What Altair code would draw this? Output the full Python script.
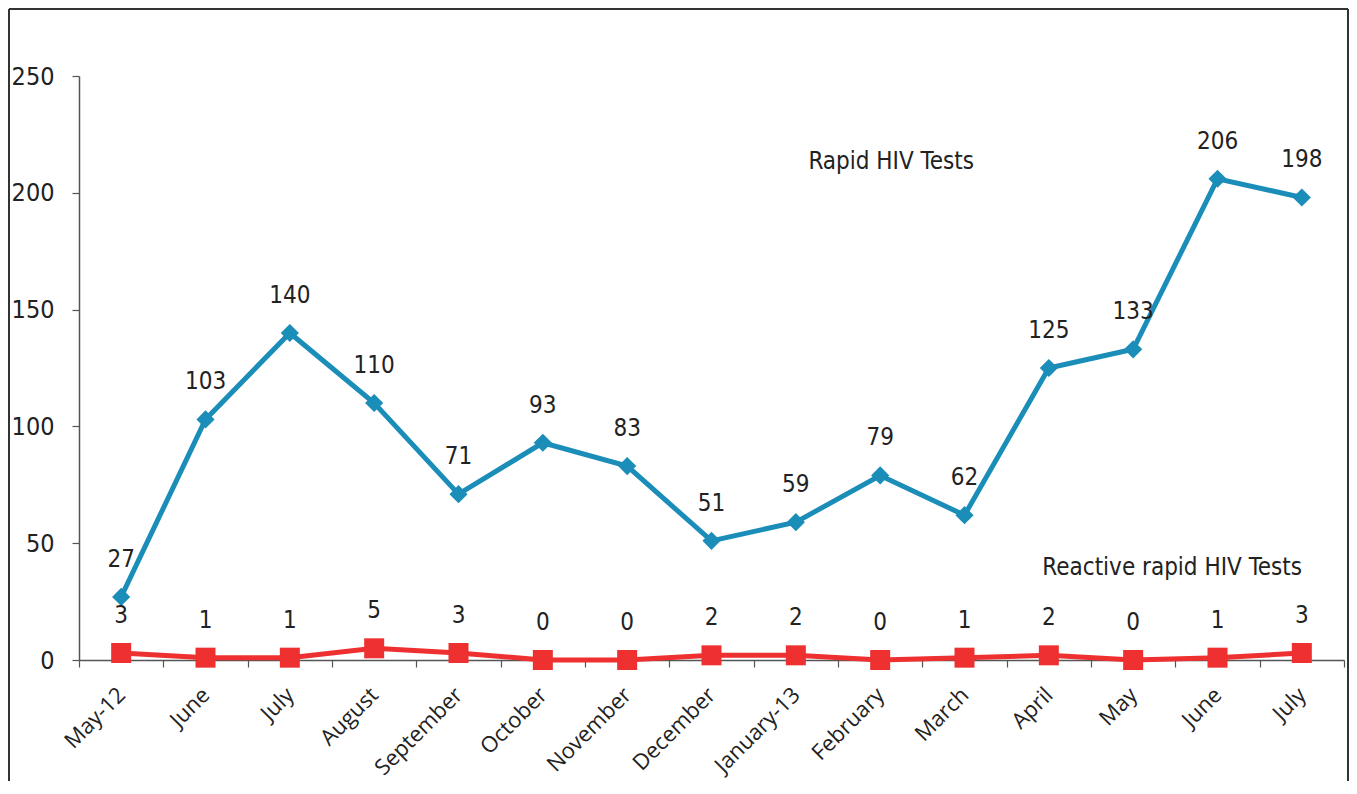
import altair as alt
import pandas as pd

months = ["May-12", "June", "July", "August", "September", "October", "November",
          "December", "January-13", "February", "March", "April", "May", "June", "July"]
rapid = [27, 103, 140, 110, 71, 93, 83, 51, 59, 79, 62, 125, 133, 206, 198]
reactive = [3, 1, 1, 5, 3, 0, 0, 2, 2, 0, 1, 2, 0, 1, 3]

idx = list(range(len(months)))
df = pd.DataFrame({"idx": idx, "month": months, "rapid": rapid, "reactive": reactive})

NUM_FONT = "Liberation Sans Narrow, DejaVu Sans Condensed, sans-serif"
LAB_FONT = "Open Sans, Lato, sans-serif"
BLUE = "#1a8db8"
RED = "#ee3030"
AX = "#555555"

label_arr = "[" + ",".join("'" + m + "'" for m in months) + "]"

x_enc = alt.X(
    "idx:O",
    bandPosition=0.5,
    scale=alt.Scale(type="band", paddingInner=0, paddingOuter=0),
    axis=alt.Axis(
        title=None, tickBand="extent", labelExpr=label_arr + "[datum.value]",
        labelAngle=-45, labelAlign="right", labelBaseline="middle",
        labelFont=LAB_FONT, labelFontSize=22, labelColor="#222222",
        labelPadding=24, tickSize=7, domainColor=AX, tickColor=AX,
        tickWidth=1.2, domainWidth=1.5,
    ),
)
y_scale = alt.Scale(domain=[0, 250], nice=False)
y_axis = alt.Axis(
    title=None, values=[0, 50, 100, 150, 200, 250], grid=False,
    labelFont=NUM_FONT, labelFontSize=25, labelColor="#222222",
    labelPadding=18, tickSize=7, domainColor=AX, tickColor=AX,
    tickWidth=1.2, domainWidth=1.5,
)

base = alt.Chart(df)

blue_line = base.mark_line(color=BLUE, strokeWidth=5).encode(
    x=x_enc, y=alt.Y("rapid:Q", scale=y_scale, axis=y_axis))
blue_pts = base.mark_point(shape="diamond", filled=True, opacity=1, color=BLUE, size=330).encode(
    x=x_enc, y=alt.Y("rapid:Q", scale=y_scale))
blue_txt = base.mark_text(font=NUM_FONT, fontSize=24, color="#222222", dy=-37, baseline="middle").encode(
    x=x_enc, y=alt.Y("rapid:Q", scale=y_scale), text="rapid:Q")

red_line = base.mark_line(color=RED, strokeWidth=5).encode(
    x=x_enc, y=alt.Y("reactive:Q", scale=y_scale))
red_pts = base.mark_point(shape="square", filled=True, opacity=1, color=RED, size=400).encode(
    x=x_enc, y=alt.Y("reactive:Q", scale=y_scale))
red_txt = base.mark_text(font=NUM_FONT, fontSize=24, color="#222222", dy=-37, baseline="middle").encode(
    x=x_enc, y=alt.Y("reactive:Q", scale=y_scale), text="reactive:Q")

ann1 = alt.Chart(pd.DataFrame({"t": ["Rapid HIV Tests"]})).mark_text(
    font=NUM_FONT, fontSize=24, color="#222222", dx=11, baseline="middle").encode(
    x=alt.datum(9, type="ordinal"), y=alt.datum(213), text="t:N")
ann2 = alt.Chart(pd.DataFrame({"t": ["Reactive rapid HIV Tests"]})).mark_text(
    font=NUM_FONT, fontSize=24, color="#222222", dx=39, baseline="middle").encode(
    x=alt.datum(12, type="ordinal"), y=alt.datum(39.4), text="t:N")

one = pd.DataFrame({"s": [0]})
border_l = alt.Chart(one).mark_rule(color="#333333", strokeWidth=2).encode(
    x=alt.value(-70), y=alt.value(-67), y2=alt.value(705))
border_t = alt.Chart(one).mark_rule(color="#333333", strokeWidth=2).encode(
    x=alt.value(-70), x2=alt.value(1269), y=alt.value(-67))
border_r = alt.Chart(one).mark_rule(color="#333333", strokeWidth=2).encode(
    x=alt.value(1269), y=alt.value(-67), y2=alt.value(705))

chart = alt.layer(
    border_l, border_t, border_r,
    blue_line, blue_pts, blue_txt, red_line, red_pts, red_txt, ann1, ann2,
).properties(
    width=1265, height=584, padding={"left": 0, "top": 0, "right": 0, "bottom": 0}
).configure(background="white").configure_view(stroke=None, strokeWidth=0)

chart.save("out.html", embed_options={"renderer": "svg", "actions": False})
